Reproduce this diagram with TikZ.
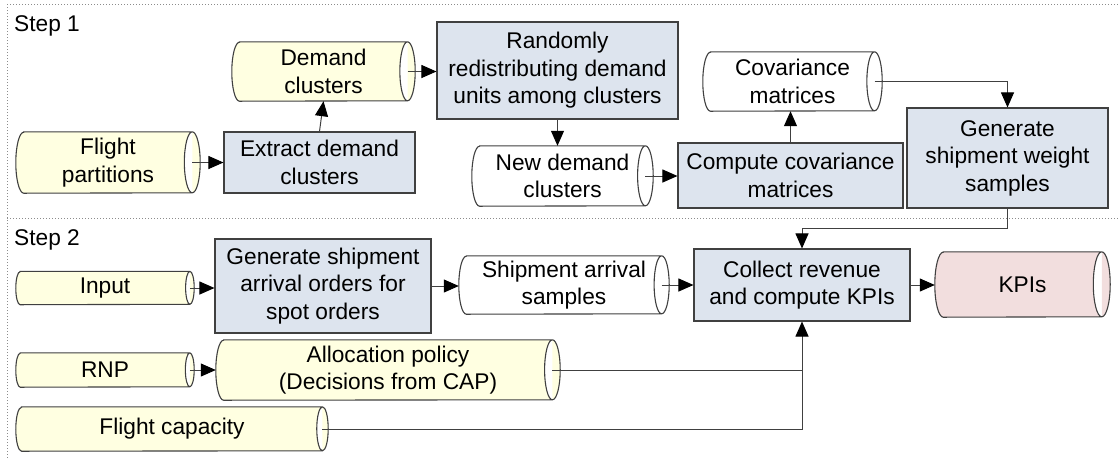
\documentclass[tikz,border=0pt]{standalone}
\usepackage{fontspec}
\setmainfont{Liberation Sans}
\usetikzlibrary{arrows.meta,calc}
\pgfdeclarelayer{background}
\pgfsetlayers{background,main}

\definecolor{edge}{HTML}{404040}
\definecolor{procfill}{HTML}{DDE4EE}
\definecolor{datafill}{HTML}{FFFFE1}
\definecolor{outfill}{HTML}{F2DEDE}
\definecolor{framegray}{HTML}{8C8C8C}

% Horizontal data-store cylinder drawn behind a named node:
% #1 node name, #2 fill colour, #3 node height (pt).
% Also defines the coordinate (#1-cap) at the centre of the right end.
\newcommand\cylinderoutline[3]{%
  \pgfmathsetmacro\cylry{#3/2}%
  \pgfmathsetmacro\cylrx{0.13*#3}%
  \begin{pgfonlayer}{background}
  \path[draw=edge, line width=1.1pt, fill=#2]
    ([xshift=\cylrx pt]#1.north west) -- ([xshift=-\cylrx pt]#1.north east)
    arc[start angle=90, end angle=-90, x radius=\cylrx pt, y radius=\cylry pt]
    -- ([xshift=\cylrx pt]#1.south west)
    arc[start angle=270, end angle=90, x radius=\cylrx pt, y radius=\cylry pt]
    -- cycle
    ([xshift=-\cylrx pt]#1.north east)
    arc[start angle=90, end angle=270, x radius=\cylrx pt, y radius=\cylry pt];
  \end{pgfonlayer}
  \coordinate (#1-cap) at ([xshift=-\cylrx pt]#1.east);
}

\begin{document}
\begin{tikzpicture}[x=1pt, y=-1pt,
  every node/.style={font=\fontsize{22.7}{27.5}\selectfont, text=black},
  proc/.style={draw=edge, fill=procfill, line width=1.1pt, inner sep=0pt, align=center},
  store/.style={inner sep=0pt, align=center},
  frame/.style={draw=framegray, line width=1pt, dash pattern=on 1pt off 2pt},
  conn/.style={draw=edge, line width=1pt},
  arr/.style={conn, -{Triangle[length=15pt,width=13pt,color=black,fill=black]}}]

\useasboundingbox (0,0) rectangle (1119,459);

% section frame
\draw[frame] (7,4) -- (1119,4);
\draw[frame] (7,4) -- (7,459);
\draw[frame] (7,218) -- (1119,218);

\node[anchor=base west, inner sep=0pt] (step1) at (14,31) {Step 1};
\node[anchor=base west, inner sep=0pt] (step2) at (14,245) {Step 2};

% ---------- Step 1 ----------
\node[store, minimum width=184pt, minimum height=61pt] (fp) at (108,162.5) {Flight\\partitions};
\node[proc, minimum width=191pt, minimum height=61pt] (ext) at (319.5,162.5) {Extract demand\\clusters};
\node[store, minimum width=183pt, minimum height=59pt] (dc) at (323.5,71.5) {Demand\\clusters};
\node[proc, minimum width=241pt, minimum height=97pt] (rnd) at (557.5,70.5) {Randomly\\redistributing demand\\units among clusters};
\node[store, minimum width=181pt, minimum height=60pt] (ndc) at (562.5,176) {New demand\\clusters};
\node[proc, minimum width=225pt, minimum height=65pt] (cmp) at (790.5,175.5) {Compute covariance\\matrices};
\node[store, minimum width=179pt, minimum height=59pt] (cov) at (792.5,81.5) {Covariance\\matrices};
\node[proc, minimum width=201pt, minimum height=100pt] (gws) at (1007.5,158) {Generate\\shipment weight\\samples};

\cylinderoutline{fp}{datafill}{61}
\cylinderoutline{dc}{datafill}{59}
\cylinderoutline{ndc}{white}{60}
\cylinderoutline{cov}{white}{59}

% ---------- Step 2 ----------
\node[store, minimum width=178pt, minimum height=33pt] (inp) at (105,288) {Input};
\node[proc, minimum width=216pt, minimum height=94pt] (gen) at (323,286) {Generate shipment\\arrival orders for\\spot orders};
\node[store, minimum width=210pt, minimum height=58pt] (shp) at (564,285) {Shipment arrival\\samples};
\node[proc, minimum width=216pt, minimum height=72pt] (col) at (802,285) {Collect revenue\\and compute KPIs};
\node[store, minimum width=175pt, minimum height=65pt] (kpi) at (1022.5,284.5) {KPIs};
\node[store, minimum width=178pt, minimum height=34pt] (rnp) at (105,370) {RNP};
\node[store, minimum width=344pt, minimum height=60pt] (alc) at (388,370) {Allocation policy\\(Decisions from CAP)};
\node[store, minimum width=312pt, minimum height=44pt] (fcap) at (172,429) {Flight capacity};

\cylinderoutline{inp}{datafill}{33}
\cylinderoutline{shp}{white}{58}
\cylinderoutline{kpi}{outfill}{65}
\cylinderoutline{rnp}{datafill}{34}
\cylinderoutline{alc}{datafill}{60}
\cylinderoutline{fcap}{datafill}{44}

% ---------- connectors ----------
\draw[arr] (fp-cap) -- (ext.west);
\draw[arr] (ext.north) -- (dc.south);
\draw[arr] (dc-cap) -- (dc-cap -| rnd.west);
\draw[arr] (rnd.south) -- (rnd.south |- ndc.north);
\draw[arr] (ndc-cap) -- (ndc-cap -| cmp.west);
\draw[arr] (cmp.north) -- (cmp.north |- cov.south);
\draw[arr] (cov-cap) -| (gws.north);
\draw[arr] (gws.south) -- ++(0,20) -| (col.north);

\draw[arr] (inp-cap) -- (inp-cap -| gen.west);
\draw[arr] (gen.east) -- (gen.east -| shp.west);
\draw[arr] (shp-cap) -- (shp-cap -| col.west);
\draw[arr] (col.east) -- (col.east -| kpi.west);
\draw[arr] (rnp-cap) -- (rnp-cap -| alc.west);
\coordinate (merge) at (col.south |- alc-cap);
\draw[arr] (alc-cap) -- (merge) -- (col.south);
\draw[conn] (fcap-cap) -| (merge);
\end{tikzpicture}
\end{document}
